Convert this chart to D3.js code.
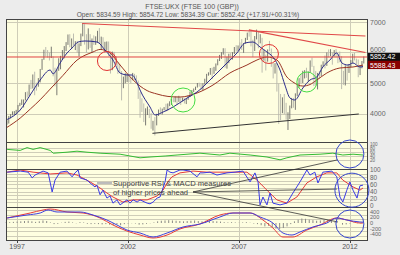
<!DOCTYPE html>
<html>
<head>
<meta charset="utf-8">
<script src="https://cdn.jsdelivr.net/npm/d3@7"></script>
<style>
body { margin: 0; background: #ececec; }
svg { display: block; font-family: "Liberation Sans", Arial, sans-serif; }
</style>
</head>
<body>
<svg id="chart" width="400" height="255"></svg>
<script>
// monthly bars, first one is Jul 1996
var priceStart = 1996.5;
var highs = [
  3780,3920,3980,4070,4080,4120,
  4280,4350,4460,4460,4700,4720,4950,5100,5280,5370,5010,5160,
  5460,5790,6090,6180,6080,6000,6190,5870,5500,5450,5810,5890,
  6080,6210,6340,6590,6600,6460,6620,6370,6380,6300,6620,6950,
  6930,6600,6790,6600,6460,6560,6530,6710,6800,6520,6500,6350,
  6360,6360,6000,6030,6020,5880,5690,5620,5390,5210,5320,5300,
  5300,5210,5330,5300,5250,5080,4700,4500,4330,4170,4230,4150,
  4010,3760,3880,3990,4130,4200,4160,4210,4320,4330,4400,4480,
  4520,4560,4560,4580,4530,4520,4500,4480,4600,4720,4770,4820,
  4880,5000,5010,4990,4990,5140,5300,5350,5490,5500,5530,5640,
  5780,5920,6010,6140,6140,5860,5960,5980,6010,6180,6240,6230,
  6330,6440,6310,6480,6650,6750,6730,6420,6540,6750,6700,6600,
  6480,6100,5930,6100,6380,6130,5650,5650,5650,4980,4640,4530,
  4640,4350,4040,4260,4510,4510,4660,4960,5160,5290,5400,5420,
  5500,5380,5740,5830,5560,5390,5330,5390,5600,5710,5900,6000,
  6100,6110,6010,6080,6110,5960,6030,5880,5400,5580,5600,5620,
  5750,5960,5990,5800,5770,5590,5720,5870
];
var lows = [
  3630,3670,3840,3940,3950,3980,
  4050,4240,4280,4200,4430,4520,4580,4800,4820,4600,4750,4880,
  5020,5430,5760,5870,5830,5740,5820,5220,4890,4600,5400,5450,
  5760,5810,6050,6250,6170,6120,6230,6080,5990,5870,6210,6530,
  6260,6000,6100,6150,5990,6250,6250,6320,6290,6090,6090,6020,
  6080,5880,5310,5420,5750,5570,5300,5320,4430,4830,4990,5030,
  5030,4990,5090,5100,5040,4480,3860,4050,3720,3610,3950,3850,
  3500,3440,3280,3610,3920,4010,3970,4110,4060,4100,4240,4280,
  4370,4370,4280,4380,4280,4400,4330,4310,4450,4540,4610,4700,
  4770,4850,4880,4780,4770,4950,5010,5240,5270,5130,5300,5400,
  5580,5720,5790,5930,5500,5470,5650,5780,5770,5950,6030,6040,
  6150,6080,5990,6290,6410,6520,6200,5850,6050,6430,6140,6300,
  5340,5730,5410,5700,6040,5530,5150,5310,4720,3660,3780,4010,
  3980,3800,3460,3820,4170,4190,4120,4570,4850,4990,5000,5150,
  5170,5030,5340,5530,4900,4910,4790,5140,5230,5540,5480,5560,
  5840,5880,5600,5870,5840,5650,5680,4800,4940,4920,5080,5330,
  5520,5660,5740,5620,5190,5260,5480,5640
];
var closes = [
  3680,3908,3955,3979,4058,4119,
  4275,4309,4312,4436,4621,4604,4907,4818,5244,4842,4831,5136,
  5458,5767,5932,5928,5870,5833,5837,5249,5064,5438,5743,5883,
  5896,6175,6296,6553,6226,6319,6231,6246,6030,6255,6597,6930,
  6269,6232,6540,6327,6359,6313,6365,6672,6294,6438,6142,6222,
  6297,5918,5634,5967,5796,5643,5529,5345,4903,5040,5204,5217,
  5165,5101,5272,5166,5086,4656,4246,4227,3722,4039,4169,3940,
  3567,3656,3613,3926,4048,4031,4157,4161,4091,4287,4342,4477,
  4390,4492,4386,4489,4431,4464,4413,4459,4571,4624,4703,4814,
  4852,4968,4894,4801,4964,5113,5282,5297,5478,5317,5423,5619,
  5760,5792,5965,6023,5724,5833,5928,5906,5961,6129,6049,6221,
  6203,6172,6308,6449,6621,6608,6360,6303,6467,6722,6432,6457,
  5880,5884,5702,6087,6054,5626,5412,5637,4903,4377,4288,4434,
  4150,3830,3926,4244,4418,4249,4608,4909,5134,5045,5191,5413,
  5189,5355,5680,5553,5188,4917,5258,5225,5549,5675,5528,5900,
  5863,5994,5909,6070,5990,5946,5815,5395,5128,5544,5505,5572,
  5682,5872,5768,5738,5321,5571,5635,5852
];

// moving averages, [year, price]
var shortMa = [[1996.5,3787],[1997.14,4115],[1997.59,4607],[1998.04,5098],[1998.49,5426],[1998.62,5300],
  [1998.94,5656],[1999.25,5984],[1999.48,6148],[1999.75,6344],[2000.06,6377],[2000.6,6344],[2000.96,6082],
  [2001.32,5754],[2001.64,5328],[2002.0,5262],[2002.18,5262],[2002.41,5000],[2002.54,4770],[2002.99,4213],
  [2003.22,3951],[2003.58,4049],[2004.03,4213],[2004.66,4508],[2005.11,4705],[2005.83,5197],[2006.46,5656],
  [2006.91,5984],[2007.27,6311],[2007.63,6344],[2007.95,6180],[2008.26,6016],[2008.53,5852],[2008.85,5426],
  [2009.07,4934],[2009.3,4508],[2009.52,4443],[2009.88,4836],[2010.2,5098],[2010.51,5197],[2010.78,5525],
  [2011.1,5754],[2011.41,5984],[2011.64,5656],[2011.91,5590],[2012.14,5656],[2012.45,5525],[2012.59,5540]];
var longMa = [[1996.5,3525],[1997.14,3850],[1997.6,4150],[1998.04,4450],[1998.49,4800],[1999.07,5250],
  [1999.7,5750],[2000.42,6016],[2000.74,6100],[2001.19,5984],[2001.64,5590],[2002.23,5098],[2002.54,4900],
  [2002.86,4750],[2003.3,4640],[2003.8,4560],[2004.34,4540],[2005.11,4672],[2005.83,4934],[2006.59,5328],
  [2007.36,5590],[2007.81,5754],[2008.26,5852],[2008.71,5754],[2009.16,5197],[2009.43,5033],[2009.88,4900],
  [2010.2,4950],[2010.51,5098],[2010.96,5328],[2011.55,5492],[2012.14,5525],[2012.59,5588]];

var curPrice = 5852.42, maLast = 5588.43;
var mainTicks = [4000, 5000, 6000, 7000];
var yearTicks = [1997, 2002, 2007, 2012];

// trend lines drawn on the price panel
var resistTop = [[1999.93, 6950], [2012.7, 6540]];
var resist2007 = [[2007.45, 6740], [2012.7, 6000]];
var support = [[2003.1, 3350], [2012.4, 3984]];
var redMarks = [[2001.05, 5721], [2008.35, 5951]];
var greenMarks = [[2004.48, 4443], [2010.06, 5033]];

// lower panels
var greenLine = [[1996.55,73],[1997.14,68],[1997.45,82],[1997.72,73],[1998.04,82],[1998.49,68],[1998.63,54],
  [1999.25,59],[1999.7,64],[2000.15,59],[2000.74,54],[2001.64,49],[2002.54,31],[2002.99,35],[2003.67,40],
  [2004.21,45],[2005.24,54],[2006.14,45],[2006.59,54],[2007.5,45],[2008.26,35],[2008.85,21],[2009.16,31],
  [2009.75,45],[2010.65,49],[2011.23,54],[2011.68,45],[2012.14,49],[2012.59,45]];
var greenTicks = [20, 40, 60, 80, 100];

var rsiLine = [[1996.55,94],[1997.14,97],[1997.5,94],[1997.68,78],[1997.81,86],[1998.17,97],[1998.4,92],
  [1998.58,39],[1998.71,72],[1998.94,94],[1999.25,97],[1999.48,81],[1999.61,92],[1999.75,100],[1999.84,78],
  [2000.15,72],[2000.29,64],[2000.51,53],[2000.6,58],[2000.74,31],[2000.87,44],[2001.05,22],[2001.19,28],
  [2001.32,8],[2001.5,17],[2001.64,3],[2001.95,17],[2002.09,8],[2002.23,17],[2002.41,11],[2002.54,17],
  [2002.86,8],[2002.99,6],[2003.13,11],[2003.31,22],[2003.44,25],[2003.67,67],[2003.76,100],[2003.89,94],
  [2004.03,92],[2004.34,100],[2004.48,100],[2004.79,97],[2005.11,81],[2005.24,92],[2005.38,92],[2005.69,94],
  [2006.01,86],[2006.46,92],[2006.82,94],[2007.18,97],[2007.5,67],[2007.72,92],[2007.86,67],[2007.95,3],
  [2008.08,25],[2008.26,3],[2008.4,36],[2008.53,8],[2008.85,3],[2009.16,8],[2009.43,36],[2009.75,67],
  [2010.06,100],[2010.2,86],[2010.42,94],[2010.56,64],[2010.78,94],[2011.19,97],[2011.41,81],[2011.55,25],
  [2011.68,11],[2011.86,44],[2012.0,67],[2012.14,44],[2012.32,22],[2012.45,56],[2012.59,58]];
var rsiSignal = [[1996.55,94],[1997.14,100],[1997.72,94],[1998.49,89],[1999.25,92],[1999.7,86],[2000.29,67],
  [2000.74,50],[2001.05,36],[2001.32,25],[2001.77,11],[2002.23,17],[2002.86,17],[2003.31,28],[2003.58,44],
  [2003.76,64],[2003.98,81],[2004.34,92],[2004.93,97],[2005.56,94],[2006.46,94],[2007.36,94],[2007.81,72],
  [2008.26,44],[2008.71,17],[2009.16,8],[2009.61,25],[2010.06,64],[2010.51,81],[2010.96,92],[2011.41,92],
  [2011.68,72],[2012.14,53],[2012.45,44],[2012.59,50]];
var rsiTicks = [0, 20, 40, 60, 80, 100];

var macdLine = [[1996.55,179],[1997.45,286],[1998.04,357],[1998.4,464],[1998.8,393],[1999.25,393],
  [1999.84,393],[2000.42,286],[2001.05,107],[2001.5,-71],[2001.95,-250],[2002.54,-357],[2003.13,-500],
  [2003.76,-357],[2004.48,-143],[2005.24,-36],[2006.14,214],[2006.73,357],[2007.5,357],[2007.95,214],
  [2008.53,0],[2008.98,-357],[2009.39,-429],[2009.75,-321],[2010.33,-143],[2010.96,0],[2011.41,179],
  [2011.86,107],[2012.45,36],[2012.59,30]];
var macdSignal = [[1996.55,179],[1997.59,357],[1998.17,464],[1998.49,500],[1999.25,393],[1999.97,357],
  [2000.74,179],[2001.32,-71],[2001.95,-286],[2002.54,-429],[2003.13,-536],[2003.76,-429],[2004.34,-214],
  [2005.24,-36],[2006.14,286],[2006.73,357],[2007.5,357],[2008.08,107],[2008.53,-179],[2008.98,-500],
  [2009.43,-500],[2010.06,-250],[2010.65,-71],[2011.41,179],[2011.86,107],[2012.45,0],[2012.59,0]];
// histogram, one value every two months from Jul 1996
var macdHist = [20,30,40, 50,60,70, 80,60,40, 60,90,70, 20,-40,-30, 10,40,50, 20,-10,30, 20,-30,-40,
  -30,-40,-50, -40,-60,-70, -50,-80,-40, -20,-10,-20, -60,-50,-30, -10,20,60, 80,90,100, 90,80,70,
  60,70,80, 90,70,60, 80,90,70, 60,50,30, 20,30,20, 10,20,30, 10,-20,-40, -80,-120,-100,
  -140,-200,-220, -180,-120,-40, 60,120,160, 150,120,100, 80,90,110, 100,70,40, 0,-60,-50, -20,10,-10, -20];
var macdTicks = [-400, -200, 0, 200, 400];

// blue rings on the lower panels and the pointer lines
var greenRing = [2012.0, 50], rsiRing = [2012.09, 44], macdRing = [2012.0, -36];
var noteFrom = [2004.93, 39];
var noteToGreen = [2011.46, 21], noteToRsi = [2011.41, 47], noteToMacd = [2011.46, 36];

var svg = d3.select("#chart");
var left = 6, right = 367;

var x = d3.scaleLinear().domain([1996.5, 2012.77]).range([left, right]);
var yMain = d3.scaleLinear().domain([3066, 7098]).range([142, 19]);
var yGreen = d3.scaleLinear().domain([0, 100]).range([164, 144]);
var yRsi = d3.scaleLinear().domain([0, 100]).range([206, 170]);
var yMacd = d3.scaleLinear().domain([-400, 400]).range([234.2, 211.8]);

var panels = [[19, 142], [142, 169], [169, 207], [207, 240]];
svg.selectAll(".panel")
  .data(panels)
  .enter().append("rect")
  .attr("x", left).attr("y", function(d) { return d[0]; })
  .attr("width", right - left).attr("height", function(d) { return d[1] - d[0]; })
  .attr("fill", "#fefee0");

var grid = svg.append("g").attr("stroke", "#cfcdb8").attr("stroke-width", 1).attr("shape-rendering", "crispEdges");
function hlines(vals, scale) {
  grid.selectAll(null).data(vals).enter().append("line")
    .attr("x1", left).attr("x2", right)
    .attr("y1", function(d) { return Math.round(scale(d)) + 0.5; })
    .attr("y2", function(d) { return Math.round(scale(d)) + 0.5; });
}
hlines(mainTicks, yMain);
hlines([20, 40, 60, 80], yGreen);
hlines(d3.range(10, 100, 10), yRsi);
hlines([-450, -300, -150, 150, 300, 450], yMacd);
grid.selectAll(null).data(yearTicks).enter().append("line")
  .attr("x1", function(d) { return Math.round(x(d)) + 0.5; })
  .attr("x2", function(d) { return Math.round(x(d)) + 0.5; })
  .attr("y1", 19).attr("y2", 240);

// price bars
svg.append("g").selectAll("line")
  .data(highs)
  .enter().append("line")
  .attr("x1", function(d, i) { return x(priceStart + (i + 0.5) / 12); })
  .attr("x2", function(d, i) { return x(priceStart + (i + 0.5) / 12); })
  .attr("y1", function(d) { return yMain(d); })
  .attr("y2", function(d, i) { return yMain(lows[i]); })
  .attr("stroke", function(d, i) {
    var prev = i > 0 ? closes[i - 1] : closes[i];
    return closes[i] >= prev ? "#6a6a66" : "#b4b4aa";
  })
  .attr("stroke-width", 0.9);

function drawLine(data, ys, color, width, curve) {
  var line = d3.line()
    .x(function(d) { return x(d[0]); })
    .y(function(d) { return ys(d[1]); })
    .curve(curve || d3.curveLinear);
  svg.append("path").datum(data)
    .attr("d", line)
    .attr("fill", "none")
    .attr("stroke", color)
    .attr("stroke-width", width);
}

drawLine(longMa, yMain, "#9a3424", 1, d3.curveMonotoneX);
drawLine(shortMa, yMain, "#2c2c8c", 1, d3.curveMonotoneX);

drawLine([[1996.5, curPrice], [2012.77, curPrice]], yMain, "#e04040", 1);
drawLine(resistTop, yMain, "#e04848", 1.2);
drawLine(resist2007, yMain, "#e04848", 1.2);
drawLine(support, yMain, "#333333", 1);

svg.selectAll(".redmark").data(redMarks).enter().append("circle")
  .attr("cx", function(d) { return x(d[0]); })
  .attr("cy", function(d) { return yMain(d[1]); })
  .attr("r", 9.5).attr("fill", "none").attr("stroke", "#e03030").attr("stroke-width", 1);
svg.selectAll(".greenmark").data(greenMarks).enter().append("circle")
  .attr("cx", function(d) { return x(d[0]); })
  .attr("cy", function(d) { return yMain(d[1]); })
  .attr("r", function(d, i) { return i == 0 ? 12 : 10; })
  .attr("fill", "none").attr("stroke", "#44dd44").attr("stroke-width", 1);

// lower panels
drawLine(greenLine, yGreen, "#33bb33", 1);
drawLine(rsiSignal, yRsi, "#e83a3a", 1);
drawLine(rsiLine, yRsi, "#3a3ae6", 1);

svg.append("g").selectAll("line")
  .data(macdHist)
  .enter().append("line")
  .attr("x1", function(d, i) { return x(priceStart + i / 6); })
  .attr("x2", function(d, i) { return x(priceStart + i / 6); })
  .attr("y1", yMacd(0))
  .attr("y2", function(d) { return yMacd(d); })
  .attr("stroke", "#8a8a86")
  .attr("stroke-width", 1);
drawLine(macdSignal, yMacd, "#e83a3a", 1, d3.curveMonotoneX);
drawLine(macdLine, yMacd, "#4040dd", 1, d3.curveMonotoneX);

// panel frames
var frame = svg.append("g").attr("fill", "none").attr("stroke", "#444").attr("shape-rendering", "crispEdges");
frame.selectAll("rect").data(panels).enter().append("rect")
  .attr("x", left + 0.5).attr("y", function(d) { return d[0] + 0.5; })
  .attr("width", right - left).attr("height", function(d) { return d[1] - d[0]; });
frame.selectAll(".tick").data(yearTicks).enter().append("line")
  .attr("x1", function(d) { return Math.round(x(d)) + 0.5; })
  .attr("x2", function(d) { return Math.round(x(d)) + 0.5; })
  .attr("y1", 240).attr("y2", 243);

// annotations
var note = svg.append("g").attr("stroke", "#333").attr("stroke-width", 0.8);
[[noteFrom, noteToGreen, yGreen], [noteFrom, noteToRsi, yRsi], [noteFrom, noteToMacd, yMacd]].forEach(function(p) {
  note.append("line")
    .attr("x1", x(p[0][0])).attr("y1", yRsi(p[0][1]))
    .attr("x2", x(p[1][0])).attr("y2", p[2](p[1][1]));
});
svg.append("line")
  .attr("x1", x(2000.6)).attr("x2", x(2001.28))
  .attr("y1", yRsi(64)).attr("y2", yRsi(64))
  .attr("stroke", "#bbbbbb").attr("stroke-width", 2);

var ringData = [[greenRing, yGreen, 14], [rsiRing, yRsi, 17], [macdRing, yMacd, 14]];
svg.selectAll(".ring").data(ringData).enter().append("circle")
  .attr("cx", function(d) { return x(d[0][0]); })
  .attr("cy", function(d) { return d[1](d[0][1]); })
  .attr("r", function(d) { return d[2]; })
  .attr("fill", "none").attr("stroke", "#3344cc").attr("stroke-width", 1);

svg.append("text").attr("x", x(2001.32)).attr("y", yRsi(55.5))
  .attr("font-size", 7.6).attr("fill", "#444")
  .text("Supportive RSI & MACD measures");
svg.append("text").attr("x", x(2001.32)).attr("y", yRsi(30.5))
  .attr("font-size", 7.6).attr("fill", "#444")
  .text("of higher prices ahead");

// titles
svg.append("text").attr("x", 192).attr("y", 8.5).attr("text-anchor", "middle")
  .attr("font-size", 7).attr("fill", "#555").text("FTSE:UKX (FTSE 100 (GBP))");
svg.append("text").attr("x", 188).attr("y", 17).attr("text-anchor", "middle")
  .attr("font-size", 6.6).attr("fill", "#555")
  .text("Open: 5834.59 High: 5854.72 Low: 5834.39 Cur: 5852.42 (+17.91/+00.31%)");

// right axis labels
function rlabels(vals, scale, size) {
  svg.append("g").selectAll("text").data(vals).enter().append("text")
    .attr("x", 370).attr("y", function(d) { return scale(d) + size * 0.36; })
    .attr("font-size", size).attr("fill", "#666")
    .text(function(d) { return d; });
}
rlabels(mainTicks, yMain, 7);
rlabels(greenTicks, yGreen, 4.6);
rlabels(rsiTicks, yRsi, 6.4);
rlabels(macdTicks, yMacd, 5.6);

var boxes = [[curPrice, "#111111"], [maLast, "#880000"]];
var bx = svg.append("g").selectAll("g").data(boxes).enter().append("g");
bx.append("rect")
  .attr("x", 368).attr("y", function(d) { return yMain(d[0]) - 4.3; })
  .attr("width", 32).attr("height", 8.3)
  .attr("fill", function(d) { return d[1]; });
bx.append("text")
  .attr("x", 370).attr("y", function(d) { return yMain(d[0]) + 2.5; })
  .attr("font-size", 7).attr("fill", "#fff")
  .text(function(d) { return d[0].toFixed(2); });

// the 6000 label peeks out above the price box
svg.selectAll("text").filter(function() { return this.textContent == "6000"; })
  .attr("y", yMain(curPrice) - 4.6);

// year labels
svg.append("g").selectAll("text").data(yearTicks).enter().append("text")
  .attr("x", function(d) { return x(d); }).attr("y", 249)
  .attr("text-anchor", "middle").attr("font-size", 7).attr("fill", "#555")
  .text(function(d) { return d; });
</script>
</body>
</html>
